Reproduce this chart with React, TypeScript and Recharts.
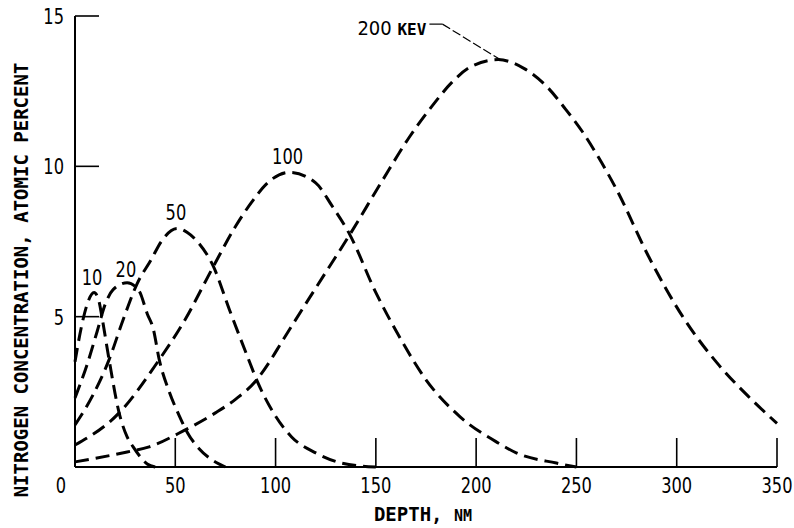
import React from 'react';
import { LineChart, Line, XAxis, YAxis, ReferenceLine, ReferenceDot } from 'recharts';

// depth (nm) and nitrogen concentration (atomic %)
const depth10 = [0, 3, 6, 9.5, 12, 13.4, 17, 22, 26, 29, 33, 36, 40];
const conc10 = [3.5, 4.6, 5.4, 5.8, 5.5, 5.0, 3.57, 1.8, 1.0, 0.67, 0.3, 0.1, 0];

const depth20 = [0, 6, 11, 15, 19, 26, 32, 36, 39, 42, 47, 52, 56, 62, 68, 75];
const conc20 = [2.3, 3.4, 4.5, 5.4, 5.9, 6.13, 5.85, 5.1, 4.6, 3.57, 2.5, 1.7, 1.15, 0.6, 0.25, 0];

const depth50 = [0, 9, 17, 24, 31, 38, 43, 51, 56, 61, 69, 77, 86, 91, 99, 108, 120, 133, 150];
const conc50 = [1.4, 2.4, 3.57, 4.9, 6.1, 6.9, 7.5, 7.93, 7.8, 7.5, 6.67, 5.23, 3.67, 2.83, 1.8, 1.0, 0.47, 0.13, 0];

const depth100 = [0, 22, 42, 54, 69, 80, 88, 96, 107, 120, 128, 137, 150, 162, 175, 192, 211, 220, 240, 250];
const conc100 = [0.73, 1.8, 3.57, 4.8, 6.67, 8.0, 8.8, 9.45, 9.8, 9.45, 8.7, 7.73, 5.8, 4.3, 2.9, 1.67, 0.8, 0.47, 0.13, 0];

const depth200 = [0, 26, 37, 54, 70, 80, 90, 97, 103, 120, 137, 153, 167, 178, 188, 197, 211, 224, 236, 244, 253, 261, 270, 286, 303, 320, 336, 350];
const conc200 = [0.17, 0.5, 0.67, 1.2, 1.8, 2.25, 2.85, 3.5, 4.15, 5.95, 7.73, 9.5, 11.0, 12.0, 12.8, 13.3, 13.55, 13.25, 12.6, 11.95, 11.15, 10.3, 9.23, 7.0, 5.0, 3.47, 2.33, 1.45];

const xTicks = [0, 50, 100, 150, 200, 250, 300, 350];
const yTicks = [5, 10, 15];

const energyLabels = ['10', '20', '50', '100'];
const labelDepths = [8.5, 25.4, 50.3, 106];
const labelConcs = [6.28, 6.55, 8.45, 10.31];

const toRows = (d: number[], c: number[]) => d.map((v, i) => ({ d: v, c: c[i] }));

const series = [
  toRows(depth10, conc10),
  toRows(depth20, conc20),
  toRows(depth50, conc50),
  toRows(depth100, conc100),
  toRows(depth200, conc200),
];

const NUM_FONT = "'Liberation Sans Narrow', 'DejaVu Sans Condensed', sans-serif";
const TITLE_FONT = "'DejaVu Sans Mono', monospace";

// narrow numerals like the typewriter lettering of the original
const Num = ({ x, y, anchor = 'middle', children }: any) => (
  <text
    transform={`translate(${x},${y}) scale(0.86,1)`}
    textAnchor={anchor}
    fontSize={21}
    fontFamily={NUM_FONT}
    fill="#000"
  >
    {children}
  </text>
);

const XTick = (props: any) => {
  const { x, y, payload } = props;
  const v = payload.value;
  return (
    <g>
      {v !== 0 && <line x1={x} y1={y} x2={x} y2={y - 29} stroke="#000" strokeWidth={1.6} />}
      <Num x={v === 0 ? x - 14 : x} y={y + 26}>{v}</Num>
    </g>
  );
};

const YTick = (props: any) => {
  const { x, y, payload } = props;
  return (
    <g>
      <line x1={x} y1={y} x2={x + 24} y2={y} stroke="#000" strokeWidth={1.6} />
      <Num x={x - 11} y={y + 8} anchor="end">{payload.value}</Num>
    </g>
  );
};

export default function App() {
  return (
    <div style={{ position: 'relative', width: 794, height: 528, background: '#fff' }}>
      <style>{`body{margin:0}`}</style>
      <LineChart width={794} height={528} margin={{ top: 16, right: 17, bottom: 21, left: 15 }}>
        <XAxis
          dataKey="d"
          type="number"
          domain={[0, 350]}
          ticks={xTicks}
          height={40}
          tickSize={0}
          tickMargin={0}
          tickLine={false}
          tick={<XTick />}
          axisLine={{ stroke: '#000', strokeWidth: 2 }}
          allowDuplicatedCategory={false}
        />
        <YAxis
          type="number"
          domain={[0, 15]}
          ticks={yTicks}
          width={60}
          tickSize={0}
          tickMargin={0}
          tickLine={false}
          tick={<YTick />}
          axisLine={{ stroke: '#000', strokeWidth: 2 }}
        />
        {series.map((rows, i) => (
          <Line
            key={i}
            data={rows}
            dataKey="c"
            type="monotone"
            stroke="#000"
            strokeWidth={3}
            strokeDasharray="14 7"
            dot={false}
            activeDot={false}
            isAnimationActive={false}
          />
        ))}
        {energyLabels.map((t, i) => (
          <ReferenceDot
            key={t}
            x={labelDepths[i]}
            y={labelConcs[i]}
            r={0}
            shape={(p: any) => <Num x={p.cx} y={p.cy + 7}>{t}</Num>}
          />
        ))}
        <ReferenceDot
          x={175.2}
          y={14.63}
          r={0}
          shape={(p: any) => (
            <text x={p.cx} y={p.cy + 8} textAnchor="end" fontFamily={NUM_FONT} fill="#000">
              <tspan fontSize={20}>200 </tspan>
              <tspan fontSize={16} fontWeight="bold" fontFamily={TITLE_FONT}>KEV</tspan>
            </text>
          )}
        />
        <ReferenceLine
          segment={[{ x: 176.7, y: 14.73 }, { x: 183.2, y: 14.73 }]}
          stroke="#000"
          strokeWidth={1.2}
        />
        <ReferenceLine
          segment={[{ x: 183.2, y: 14.73 }, { x: 212, y: 13.55 }]}
          stroke="#000"
          strokeWidth={1.2}
          strokeDasharray="9 3"
        />
      </LineChart>
      <div
        style={{
          position: 'absolute',
          left: 21,
          top: 280,
          transform: 'translate(-50%, -50%) rotate(-90deg)',
          whiteSpace: 'nowrap',
          fontFamily: TITLE_FONT,
          fontWeight: 'bold',
          fontSize: 19,
          lineHeight: 1,
        }}
      >
        NITROGEN CONCENTRATION, ATOMIC PERCENT
      </div>
      <div
        style={{
          position: 'absolute',
          left: 423,
          top: 514,
          transform: 'translate(-50%, -50%)',
          whiteSpace: 'nowrap',
          fontFamily: TITLE_FONT,
          fontWeight: 'bold',
          fontSize: 19,
          lineHeight: 1,
        }}
      >
        DEPTH, <span style={{ fontSize: 15 }}>NM</span>
      </div>
    </div>
  );
}
